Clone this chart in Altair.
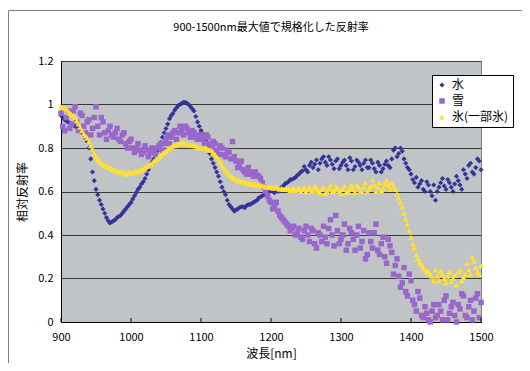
import altair as alt
import pandas as pd

# wavelengths (nm): two interleaved sampling grids
nm_a = list(range(900, 1501, 5))
nm_b = [902.5 + 5 * i for i in range(120)]

water_a = [0.95, 0.93, 0.92, 0.91, 0.90, 0.89, 0.87, 0.845, 0.80, 0.69,
           0.61, 0.56, 0.52, 0.48, 0.455, 0.465, 0.48, 0.49, 0.51, 0.53,
           0.55, 0.58, 0.61, 0.635, 0.66, 0.70, 0.735, 0.77, 0.80, 0.85,
           0.89, 0.935, 0.96, 0.985, 1.00, 1.01, 1.005, 0.99, 0.97, 0.92,
           0.88, 0.85, 0.80, 0.75, 0.71, 0.67, 0.62, 0.585, 0.54, 0.52,
           0.515, 0.525, 0.53, 0.535, 0.54, 0.55, 0.56, 0.575, 0.585, 0.60,
           0.605, 0.595, 0.60, 0.62, 0.635, 0.645, 0.655, 0.665, 0.68, 0.695,
           0.70, 0.72, 0.71, 0.745, 0.73, 0.76, 0.72, 0.745, 0.705, 0.75,
           0.72, 0.745, 0.70, 0.74, 0.715, 0.735, 0.70, 0.745, 0.71, 0.73,
           0.69, 0.72, 0.705, 0.74, 0.71, 0.79, 0.76, 0.80, 0.75, 0.71,
           0.68, 0.64, 0.62, 0.65, 0.60, 0.63, 0.58, 0.56, 0.62, 0.66,
           0.61, 0.64, 0.60, 0.67, 0.63, 0.70, 0.66, 0.73, 0.68, 0.75,
           0.70]
water_b = [0.94, 0.925, 0.915, 0.905, 0.895, 0.88, 0.86, 0.83, 0.75, 0.65,
           0.585, 0.54, 0.50, 0.465, 0.46, 0.47, 0.485, 0.50, 0.52, 0.54,
           0.565, 0.595, 0.62, 0.645, 0.68, 0.72, 0.75, 0.785, 0.825, 0.87,
           0.91, 0.95, 0.975, 0.995, 1.005, 1.01, 1.00, 0.98, 0.945, 0.90,
           0.865, 0.83, 0.775, 0.73, 0.69, 0.645, 0.60, 0.56, 0.53, 0.51,
           0.52, 0.53, 0.525, 0.54, 0.545, 0.555, 0.57, 0.58, 0.595, 0.60,
           0.60, 0.605, 0.61, 0.625, 0.64, 0.655, 0.66, 0.675, 0.69, 0.715,
           0.69, 0.735, 0.725, 0.70, 0.75, 0.735, 0.76, 0.725, 0.74, 0.705,
           0.735, 0.72, 0.755, 0.70, 0.745, 0.72, 0.73, 0.71, 0.745, 0.705,
           0.735, 0.69, 0.725, 0.72, 0.75, 0.80, 0.775, 0.785, 0.73, 0.70,
           0.655, 0.665, 0.635, 0.61, 0.645, 0.60, 0.63, 0.60, 0.64, 0.625,
           0.655, 0.62, 0.635, 0.65, 0.61, 0.68, 0.72, 0.69, 0.71, 0.74]

snow_a = [0.96, 0.88, 0.97, 0.91, 0.99, 0.88, 0.95, 0.87, 0.93, 0.89,
          0.99, 0.86, 0.92, 0.84, 0.90, 0.85, 0.89, 0.83, 0.87, 0.80,
          0.84, 0.78, 0.82, 0.77, 0.81, 0.76, 0.80, 0.77, 0.81, 0.79,
          0.84, 0.82, 0.87, 0.84, 0.90, 0.86, 0.89, 0.85, 0.87, 0.84,
          0.86, 0.82, 0.85, 0.80, 0.82, 0.77, 0.80, 0.76, 0.78, 0.83,
          0.74, 0.72, 0.70, 0.68, 0.69, 0.67, 0.675, 0.66, 0.62, 0.58,
          0.55, 0.53, 0.51, 0.48, 0.46, 0.44, 0.43, 0.40, 0.43, 0.38,
          0.44, 0.37, 0.42, 0.34, 0.40, 0.44, 0.36, 0.47, 0.35, 0.42,
          0.38, 0.45, 0.36, 0.41, 0.33, 0.44, 0.37, 0.29, 0.41, 0.34,
          0.45, 0.31, 0.39, 0.27, 0.35, 0.22, 0.29, 0.16, 0.25, 0.12,
          0.19, 0.08, 0.14, 0.03, 0.07, 0.01, 0.05, 0.02, 0.08, 0.01,
          0.12, 0.04, 0.09, 0.00, 0.06, 0.12, 0.02, 0.10, 0.05, 0.13,
          0.09]
snow_b = [0.90, 0.94, 0.89, 0.97, 0.92, 0.96, 0.90, 0.92, 0.86, 0.94,
          0.90, 0.94, 0.87, 0.88, 0.86, 0.87, 0.84, 0.86, 0.82, 0.83,
          0.80, 0.80, 0.79, 0.78, 0.79, 0.78, 0.79, 0.80, 0.82, 0.82,
          0.86, 0.85, 0.88, 0.87, 0.88, 0.90, 0.87, 0.88, 0.85, 0.86,
          0.84, 0.86, 0.82, 0.83, 0.79, 0.81, 0.77, 0.79, 0.75, 0.76,
          0.71, 0.74, 0.69, 0.71, 0.68, 0.69, 0.67, 0.64, 0.60, 0.56,
          0.52, 0.55, 0.49, 0.47, 0.45, 0.42, 0.44, 0.41, 0.39, 0.42,
          0.40, 0.43, 0.36, 0.41, 0.37, 0.39, 0.43, 0.40, 0.49, 0.36,
          0.40, 0.33, 0.43, 0.38, 0.40, 0.34, 0.42, 0.31, 0.37, 0.41,
          0.33, 0.36, 0.30, 0.38, 0.32, 0.26, 0.21, 0.18, 0.14, 0.22,
          0.10, 0.05, 0.11, 0.02, 0.04, 0.00, 0.08, 0.03, 0.05, 0.10,
          0.01, 0.07, 0.03, 0.08, 0.13, 0.03, 0.07, 0.01, 0.11, 0.02]

ice_a = [0.99, 0.985, 0.97, 0.955, 0.94, 0.91, 0.88, 0.855, 0.83, 0.795,
         0.76, 0.74, 0.725, 0.715, 0.71, 0.70, 0.695, 0.69, 0.685, 0.685,
         0.685, 0.69, 0.69, 0.70, 0.71, 0.72, 0.73, 0.745, 0.76, 0.775,
         0.785, 0.80, 0.81, 0.815, 0.82, 0.825, 0.82, 0.815, 0.81, 0.805,
         0.80, 0.80, 0.795, 0.79, 0.77, 0.75, 0.72, 0.70, 0.68, 0.665,
         0.655, 0.65, 0.645, 0.64, 0.635, 0.635, 0.63, 0.63, 0.625, 0.625,
         0.62, 0.62, 0.615, 0.615, 0.61, 0.615, 0.61, 0.605, 0.615, 0.61,
         0.60, 0.62, 0.605, 0.615, 0.595, 0.62, 0.60, 0.63, 0.605, 0.615,
         0.59, 0.625, 0.60, 0.63, 0.595, 0.62, 0.60, 0.64, 0.61, 0.655,
         0.60, 0.64, 0.615, 0.65, 0.61, 0.625, 0.59, 0.55, 0.50, 0.45,
         0.39, 0.34, 0.29, 0.265, 0.24, 0.23, 0.21, 0.24, 0.19, 0.22,
         0.18, 0.23, 0.20, 0.17, 0.24, 0.205, 0.27, 0.22, 0.28, 0.23,
         0.26]
ice_b = [0.985, 0.98, 0.96, 0.95, 0.925, 0.895, 0.865, 0.845, 0.81, 0.775,
         0.75, 0.73, 0.72, 0.71, 0.705, 0.695, 0.69, 0.69, 0.68, 0.69,
         0.685, 0.695, 0.695, 0.705, 0.715, 0.725, 0.74, 0.75, 0.765, 0.78,
         0.795, 0.805, 0.81, 0.82, 0.825, 0.82, 0.815, 0.815, 0.81, 0.80,
         0.80, 0.80, 0.79, 0.78, 0.76, 0.735, 0.71, 0.69, 0.67, 0.66,
         0.65, 0.645, 0.64, 0.64, 0.635, 0.63, 0.63, 0.625, 0.62, 0.62,
         0.615, 0.62, 0.61, 0.61, 0.615, 0.605, 0.615, 0.61, 0.60, 0.62,
         0.61, 0.60, 0.625, 0.605, 0.61, 0.59, 0.615, 0.60, 0.625, 0.60,
         0.61, 0.595, 0.615, 0.61, 0.63, 0.60, 0.62, 0.60, 0.625, 0.63,
         0.62, 0.605, 0.635, 0.63, 0.64, 0.61, 0.57, 0.53, 0.475, 0.42,
         0.36, 0.31, 0.275, 0.25, 0.235, 0.22, 0.19, 0.21, 0.235, 0.20,
         0.21, 0.185, 0.215, 0.23, 0.19, 0.22, 0.24, 0.30, 0.25, 0.22]

series_names = ["水", "雪", "氷(一部氷)"]
series_colors = ["#333399", "#9966CC", "#FFE033"]
series_shapes = ["diamond", "square", "triangle-up"]
series_sizes = [26, 34, 32]

x_ticks = [900, 1000, 1100, 1200, 1300, 1400, 1500]
y_ticks = [0, 0.2, 0.4, 0.6, 0.8, 1.0, 1.2]

rows = []
for k, (name, va, vb) in enumerate(zip(series_names,
                                        [water_a, snow_a, ice_a],
                                        [water_b, snow_b, ice_b])):
    for w, v in zip(nm_a, va):
        rows.append({"nm": w, "value": v, "series": name, "k": k})
    for w, v in zip(nm_b, vb):
        rows.append({"nm": w, "value": v, "series": name, "k": k})
df = pd.DataFrame(rows)

FONT = "Noto Sans CJK JP"
W, H = 420, 261

points = alt.Chart(df).mark_point(filled=True, opacity=1, strokeWidth=0).encode(
    x=alt.X("nm:Q", scale=alt.Scale(domain=[900, 1500], nice=False, zero=False),
            axis=alt.Axis(values=x_ticks, format="d", title="波長[nm]", grid=False,
                          ticks=False, labelPadding=9, titlePadding=6,
                          labelFlush=False)),
    y=alt.Y("value:Q", scale=alt.Scale(domain=[0, 1.2], nice=False),
            axis=alt.Axis(values=y_ticks, format="~g", title="相対反射率", grid=True,
                          ticks=False, labelPadding=8, titlePadding=8,
                          labelFlush=False)),
    color=alt.Color("series:N", scale=alt.Scale(domain=series_names, range=series_colors),
                    legend=alt.Legend(title=None)),
    shape=alt.Shape("series:N", scale=alt.Scale(domain=series_names, range=series_shapes),
                    legend=alt.Legend(title=None)),
    size=alt.Size("series:N", scale=alt.Scale(domain=series_names, range=series_sizes),
                  legend=alt.Legend(title=None)),
    order=alt.Order("k:Q"),
)

tick_df = pd.DataFrame({"t": x_ticks})
xticks_in = alt.Chart(tick_df).mark_rule(color="#000000", strokeWidth=1).encode(
    x="t:Q", y=alt.value(H - 4), y2=alt.value(H)
)

frame = alt.Chart(alt.Data(values=[{}])).mark_rect(
    fill=None, stroke="#808080", strokeWidth=1
).encode(
    x=alt.value(-52.5), x2=alt.value(W + 80), y=alt.value(-50.5), y2=alt.value(H + 80)
)

chart = alt.layer(frame, points, xticks_in).properties(
    width=W, height=H,
    title=alt.TitleParams("900-1500nm最大値で規格化した反射率", fontSize=11,
                          fontWeight="normal", font=FONT, color="#000000",
                          anchor="middle", offset=0, dy=23),
    autosize=alt.AutoSizeParams(type="none"),
    padding={"left": 53, "top": 53, "right": 41, "bottom": 41},
).configure_view(
    fill="#C0C4C6", stroke="#808080", strokeWidth=1
).configure_axis(
    labelFont=FONT, titleFont=FONT, labelFontSize=11, titleFontSize=12,
    labelColor="#000000", titleColor="#000000", titleFontWeight="normal",
    domainColor="#000000", domainWidth=1, gridColor="#3a3a3a", gridWidth=1,
    gridOpacity=1
).configure_legend(
    orient="none", legendX=371, legendY=14, fillColor="#FFFFFF",
    strokeColor="#000000", padding=4, rowPadding=4, labelFont=FONT,
    labelFontSize=12, labelColor="#000000", symbolStrokeWidth=0, labelOffset=4,
    symbolOpacity=1
)

chart.save("out.html", embed_options={"renderer": "svg", "actions": False})
